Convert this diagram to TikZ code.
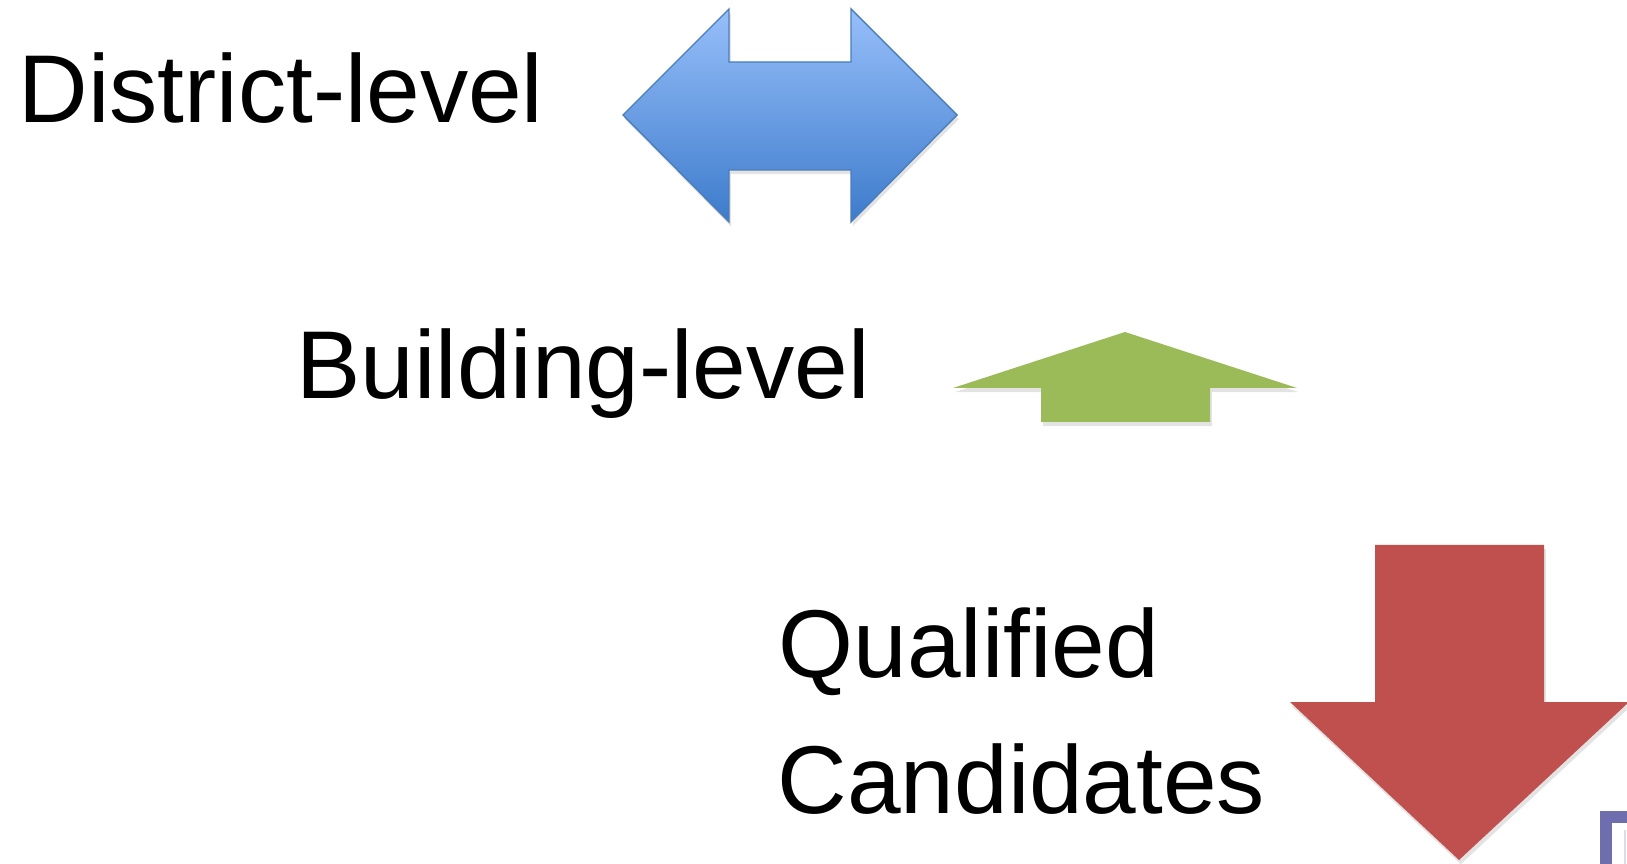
\documentclass[tikz,border=0pt]{standalone}
\usepackage{fontspec}
\setmainfont{Liberation Sans}
\usetikzlibrary{shadows}
\definecolor{bluetop}{HTML}{97BFFA}
\definecolor{bluebot}{HTML}{3D7BCB}
\definecolor{blueline}{HTML}{4A7EBB}
\definecolor{upgreen}{HTML}{9BBB59}
\definecolor{downred}{HTML}{C0504D}
\definecolor{framepurple}{HTML}{6E6EAF}
\tikzstyle{levellabel} = [anchor=base west, inner sep=0pt,
    font=\fontsize{27.4}{38}\selectfont]
\tikzstyle{softshadow} = [drop shadow={opacity=0.22, shadow xshift=0.5pt, shadow yshift=-1.2pt}]
\tikzstyle{bluearrow} = [softshadow, draw=blueline, line width=0.4pt,
    top color=bluetop, bottom color=bluebot]
\tikzstyle{greenarrow} = [softshadow, fill=upgreen]
\tikzstyle{redarrow} = [softshadow, fill=downred]

\begin{document}
\begin{tikzpicture}[x=0.01cm, y=-0.01cm]
    \useasboundingbox (0,0) rectangle (1627,864);
    \clip (0,0) rectangle (1627,864);
    % labels
    \node[levellabel] (district) at (18,123) {District-level};
    \node[levellabel] (building) at (296,399) {Building-level};
    \node[levellabel] (qualified) at (778,677) {Qualified};
    \node[levellabel] (candidates) at (777,813) {Candidates};
    % district: both ways
    \path[bluearrow] (623,115) -- (729,9) -- (729,62) -- (851,62) -- (851,9)
        -- (957,115) -- (851,222) -- (851,170) -- (729,170) -- (729,222) -- cycle;
    % building: up
    \path[greenarrow] (953,388) -- (1125,332) -- (1297,388) -- (1210,388)
        -- (1210,422) -- (1041,422) -- (1041,388) -- cycle;
    % candidates: down
    \path[redarrow] (1375,545) -- (1544,545) -- (1544,702) -- (1629,702)
        -- (1459,860) -- (1290,702) -- (1375,702) -- cycle;
    % frame in the corner
    \fill[framepurple] (1600,811) rectangle (1640,880);
    \fill[white] (1612,823) rectangle (1640,880);
    \draw[framepurple!25] (1625,830) -- (1625,880);
\end{tikzpicture}
\end{document}
